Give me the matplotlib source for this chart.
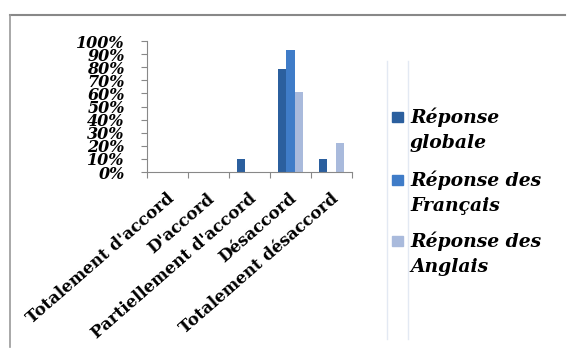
import matplotlib.pyplot as plt
import numpy as np
from matplotlib.patches import Rectangle

categories = ["Totalement d'accord", "D'accord", "Partiellement d'accord",
              "Désaccord", "Totalement désaccord"]
series_names = ["Réponse\nglobale", "Réponse des\nFrançais", "Réponse des\nAnglais"]
globale = [0, 0, 10, 79, 10]
francais = [0, 0, 0, 93, 0]
anglais = [0, 0, 0, 61, 22]
yticks = [0, 10, 20, 30, 40, 50, 60, 70, 80, 90, 100]

colors = ['#2B5F9E', '#3F7CC8', '#A9BADC']
serif = 'DejaVu Serif'

fig = plt.figure(figsize=(5.75, 3.61), dpi=100)
ax = fig.add_axes([0.2557, 0.5235, 0.3565, 0.3629])

x = np.arange(len(categories))
w = 0.2
for i, (vals, c) in enumerate(zip([globale, francais, anglais], colors)):
    ax.bar(x + (i - 1) * w, vals, width=w, color=c)

ax.set_xlim(-0.5, len(categories) - 0.5)
ax.set_ylim(0, 100)
ax.set_yticks(yticks)
ax.set_yticklabels([f'{v}%' for v in yticks], fontfamily=serif,
                   fontweight='bold', fontstyle='italic', fontsize=11.5)
ax.tick_params(axis='y', length=4, color='#888888', pad=12)

# category boundary ticks, Excel style
ax.set_xticks(np.arange(-0.5, len(categories), 1.0))
ax.set_xticklabels([])
ax.tick_params(axis='x', length=4, color='#888888')
for xi, cat in zip(x, categories):
    ax.annotate(cat, xy=(xi, 0), xycoords=('data', 'axes fraction'),
                xytext=(-1, -13), textcoords='offset points',
                rotation=41, rotation_mode='anchor', ha='right', va='top',
                fontfamily=serif, fontweight='bold', fontsize=12)

for s in ['top', 'right']:
    ax.spines[s].set_visible(False)
ax.spines['left'].set_color('#888888')
ax.spines['bottom'].set_color('#888888')

# legend drawn by hand so each square sits on the first line of its label
W, H = 575, 361
first_line_y = [117, 180, 241]
for name, c, yl in zip(series_names, colors, first_line_y):
    fig.add_artist(Rectangle((392 / W, 1 - (yl + 5) / H), 11 / W, 10 / H,
                             color=c, transform=fig.transFigure))
    for k, line in enumerate(name.split('\n')):
        fig.text(410 / W, 1 - (yl + 26 * k) / H, line, ha='left', va='center',
                 fontfamily=serif, fontweight='bold', fontstyle='italic',
                 fontsize=13.5)

# outer frame (top and left edges visible)
fig.add_artist(plt.Line2D([0.017, 0.983], [0.958, 0.958], color='#888888', lw=1.5,
                          transform=fig.transFigure))
fig.add_artist(plt.Line2D([0.017, 0.017], [0.958, 0.04], color='#999999', lw=1.2,
                          transform=fig.transFigure))
# faint artefact lines next to the legend
fig.add_artist(plt.Line2D([0.673, 0.673], [0.83, 0.06], color='#e3e9f3', lw=1,
                          transform=fig.transFigure))
fig.add_artist(plt.Line2D([0.71, 0.71], [0.83, 0.06], color='#e3e9f3', lw=1,
                          transform=fig.transFigure))

fig.savefig('out.png', dpi=100)
